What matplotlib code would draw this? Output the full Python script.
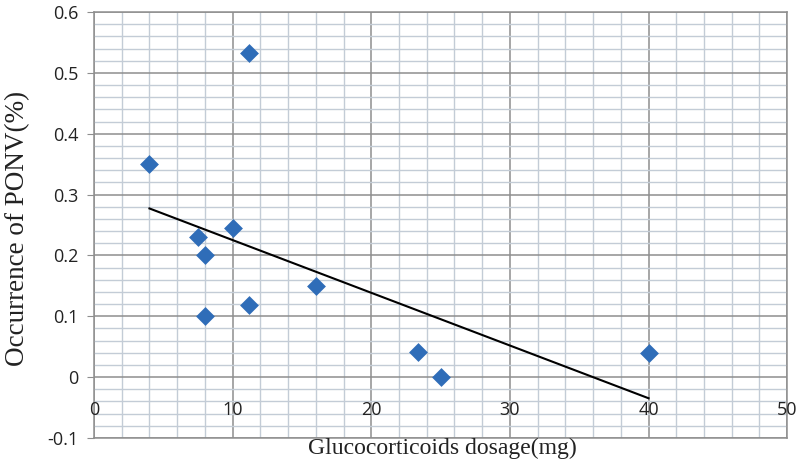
import numpy as np
import matplotlib.pyplot as plt
from matplotlib.ticker import MultipleLocator

# dosage (mg) vs PONV occurrence
dosage = [4, 11.2, 7.5, 10, 8, 8, 11.2, 16, 23.4, 25, 40]
ponv = [0.35, 0.533, 0.23, 0.245, 0.2, 0.1, 0.118, 0.15, 0.041, 0.0, 0.04]
x_ticks = [0, 10, 20, 30, 40, 50]
y_ticks = [-0.1, 0, 0.1, 0.2, 0.3, 0.4, 0.5, 0.6]

fig = plt.figure(figsize=(8, 4.73), dpi=100)
ax = fig.add_axes([0.1175, 0.074, 0.8665, 0.9006])

# grid: major every 10 / 0.1, minor every 2 / 0.02
ax.xaxis.set_minor_locator(MultipleLocator(2))
ax.yaxis.set_minor_locator(MultipleLocator(0.02))
ax.grid(which='minor', color='#c3ccd6', linewidth=1.0)
ax.grid(which='major', color='#8e8e8e', linewidth=1.1)
ax.set_axisbelow(True)

ax.scatter(dosage, ponv, marker='D', s=9.6 ** 2, color='#2f6db8', zorder=3, linewidths=0)

# linear trendline (least squares), drawn over the data range
k, b = np.polyfit(dosage, ponv, 1)
xs = np.array([min(dosage), max(dosage)])
ax.plot(xs, k * xs + b, color='black', linewidth=1.5, zorder=4)

ax.set_xlim(0, 50)
ax.set_ylim(-0.1, 0.6)
ax.set_xticks(x_ticks)
ax.set_xticklabels([])
ax.set_yticks(y_ticks)
ax.set_yticklabels(['%g' % v for v in y_ticks], family='Open Sans', fontsize=13, color='#222222')
ax.tick_params(axis='x', which='both', length=0)
ax.tick_params(axis='y', which='major', length=5, color='#8e8e8e', pad=6)
ax.tick_params(axis='y', which='minor', length=0)

# Excel puts the category labels just under the y=0 line
for t in x_ticks:
    ax.text(t, -0.054, str(t), ha='center', va='center', family='Open Sans',
            fontsize=13, color='#222222')

for s in ax.spines.values():
    s.set_color('#8e8e8e')
    s.set_linewidth(1.1)

fig.text(0.5525, 0.051, 'Glucocorticoids dosage(mg)', ha='center', va='center',
         family='Liberation Serif', fontsize=17, color='#222222')
fig.text(0.0225, 0.518, 'Occurrence of PONV(%)', ha='center', va='center', rotation=90,
         family='Liberation Serif', fontsize=19.5, color='#222222')

fig.savefig('out.png', dpi=100)
